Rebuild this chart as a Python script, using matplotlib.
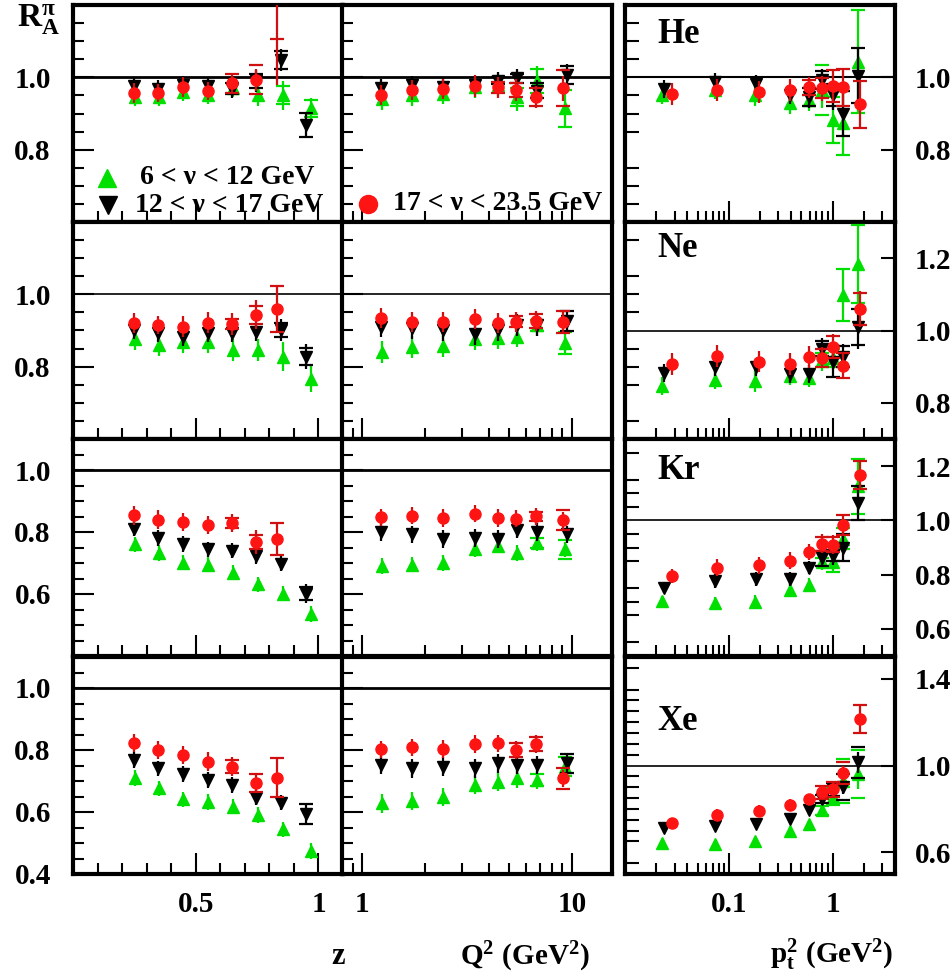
import numpy as np
import matplotlib.pyplot as plt
from matplotlib.ticker import FixedLocator, MultipleLocator, NullFormatter

plt.rcParams['font.family'] = ['Liberation Serif', 'DejaVu Serif']
plt.rcParams['font.weight'] = 'bold'
plt.rcParams['mathtext.fontset'] = 'custom'
plt.rcParams['mathtext.rm'] = 'Liberation Serif:bold'
plt.rcParams['mathtext.it'] = 'Liberation Serif:bold'
plt.rcParams['mathtext.bf'] = 'Liberation Serif:bold'

# x positions: green (6-12), black (12-17), red (17-23.5 GeV)
z_x = [[0.254, 0.35, 0.448, 0.55, 0.653, 0.753, 0.855, 0.968],
       [0.247, 0.347, 0.448, 0.548, 0.648, 0.746, 0.848, 0.951],
       [0.247, 0.347, 0.448, 0.548, 0.648, 0.746, 0.831]]
q2_x = [[1.24, 1.73, 2.43, 3.44, 4.45, 5.45, 6.8, 9.28],
        [1.225, 1.726, 2.427, 3.44, 4.45, 5.45, 6.8, 9.47],
        [1.225, 1.726, 2.427, 3.44, 4.42, 5.41, 6.76, 9.05]]
pt_x = [[0.0227, 0.074, 0.18, 0.39, 0.59, 0.80, 1.0, 1.25, 1.76],
        [0.0235, 0.074, 0.184, 0.39, 0.59, 0.785, 1.0, 1.25, 1.76],
        [0.0284, 0.077, 0.194, 0.39, 0.59, 0.80, 1.0, 1.26, 1.83]]

# He
he_z_y = [[0.946, 0.946, 0.96, 0.951, 0.97, 0.951, 0.951, 0.914],
          [0.975, 0.968, 0.978, 0.975, 0.968, 0.99, 1.048, 0.868],
          [0.956, 0.956, 0.974, 0.963, 0.983, 0.993, 1.25]]
he_z_err = [[0.025, 0.025, 0.025, 0.025, 0.025, 0.03, 0.04, 0.03],
            [0.025, 0.025, 0.025, 0.025, 0.025, 0.03, 0.03, 0.035],
            [0.027, 0.025, 0.027, 0.025, 0.03, 0.03, 0.27]]
he_z_sys = [[0, 0, 0, 0, 0, 0, 0.025, 0.023],
            [0, 0, 0, 0, 0.015, 0.02, 0.025, 0.033],
            [0, 0, 0, 0, 0.025, 0.04, 0.145]]
he_q2_y = [[0.94, 0.951, 0.955, 0.972, 0.979, 0.946, 0.99, 0.914],
           [0.97, 0.979, 0.972, 0.979, 0.991, 0.997, 0.963, 1.006],
           [0.951, 0.965, 0.967, 0.976, 0.972, 0.965, 0.945, 0.970]]
he_q2_err = [[0.03, 0.03, 0.03, 0.03, 0.03, 0.04, 0.04, 0.05],
             [0.025, 0.025, 0.025, 0.025, 0.025, 0.025, 0.03, 0.03],
             [0.028, 0.028, 0.028, 0.03, 0.03, 0.03, 0.03, 0.035]]
he_q2_sys = [[0, 0, 0, 0, 0, 0.025, 0.032, 0.05],
             [0, 0, 0, 0, 0.01, 0.012, 0.02, 0.025],
             [0, 0, 0, 0, 0.015, 0.02, 0.025, 0.05]]
he_pt_y = [[0.951, 0.965, 0.951, 0.928, 0.937, 0.965, 0.882, 0.873, 1.043],
           [0.967, 0.988, 0.982, 0.951, 0.946, 0.993, 0.951, 0.90, 1.004],
           [0.954, 0.965, 0.96, 0.965, 0.972, 0.970, 0.976, 0.972, 0.926]]
he_pt_err = [[0.025, 0.025, 0.03, 0.03, 0.03, 0.05, 0.064, 0.088, 0.142],
             [0.025, 0.025, 0.025, 0.025, 0.03, 0.03, 0.04, 0.062, 0.076],
             [0.03, 0.03, 0.03, 0.03, 0.03, 0.035, 0.045, 0.05, 0.065]]
he_pt_sys = [[0, 0, 0, 0, 0.015, 0.07, 0.064, 0.088, 0.142],
             [0, 0, 0, 0, 0.025, 0.025, 0.03, 0.062, 0.076],
             [0, 0, 0, 0, 0.02, 0.028, 0.045, 0.05, 0.065]]

# Ne
ne_z_y = [[0.877, 0.86, 0.869, 0.869, 0.846, 0.846, 0.828, 0.766],
          [0.901, 0.892, 0.883, 0.892, 0.892, 0.897, 0.901, 0.828],
          [0.92, 0.915, 0.911, 0.922, 0.918, 0.943, 0.959]]
ne_z_err = [[0.03, 0.03, 0.03, 0.03, 0.03, 0.03, 0.04, 0.035],
            [0.025, 0.025, 0.025, 0.025, 0.025, 0.025, 0.03, 0.035],
            [0.028, 0.025, 0.03, 0.028, 0.03, 0.04, 0.063]]
ne_z_sys = [[0, 0, 0, 0, 0, 0, 0, 0],
            [0, 0, 0, 0, 0, 0, 0.02, 0.023],
            [0, 0, 0, 0, 0.015, 0.026, 0.063]]
ne_q2_y = [[0.841, 0.855, 0.857, 0.877, 0.88, 0.883, 0.915, 0.865],
           [0.911, 0.906, 0.901, 0.89, 0.901, 0.915, 0.915, 0.926],
           [0.934, 0.923, 0.923, 0.932, 0.92, 0.924, 0.926, 0.923]]
ne_q2_err = [[0.03, 0.03, 0.03, 0.03, 0.03, 0.03, 0.03, 0.03],
             [0.03, 0.03, 0.03, 0.03, 0.03, 0.03, 0.03, 0.03],
             [0.028, 0.028, 0.028, 0.028, 0.028, 0.028, 0.028, 0.028]]
ne_q2_sys = [[0, 0, 0, 0, 0, 0, 0.015, 0.03],
             [0, 0, 0, 0, 0, 0, 0, 0.028],
             [0, 0, 0, 0, 0, 0.015, 0.02, 0.031]]
ne_pt_y = [[0.847, 0.863, 0.861, 0.874, 0.870, 0.918, 0.923, 1.098, 1.183],
           [0.882, 0.90, 0.90, 0.879, 0.879, 0.95, 0.914, 0.928, 1.009],
           [0.907, 0.930, 0.914, 0.907, 0.926, 0.925, 0.955, 0.903, 1.06]]
ne_pt_err = [[0.025, 0.025, 0.03, 0.025, 0.025, 0.03, 0.03, 0.072, 0.108],
             [0.025, 0.025, 0.025, 0.025, 0.025, 0.03, 0.043, 0.035, 0.06],
             [0.03, 0.03, 0.03, 0.03, 0.03, 0.03, 0.035, 0.035, 0.05]]
ne_pt_sys = [[0, 0, 0, 0, 0, 0.02, 0.025, 0.072, 0.108],
             [0, 0, 0, 0, 0, 0.02, 0.043, 0.03, 0.05],
             [0, 0, 0, 0, 0, 0.025, 0.03, 0.035, 0.045]]

# Kr
kr_z_y = [[0.76, 0.733, 0.701, 0.695, 0.669, 0.631, 0.601, 0.535],
          [0.811, 0.781, 0.762, 0.744, 0.74, 0.722, 0.698, 0.601],
          [0.854, 0.84, 0.832, 0.822, 0.829, 0.768, 0.778]]
kr_z_err = [[0.025, 0.025, 0.025, 0.025, 0.025, 0.025, 0.025, 0.025],
            [0.025, 0.025, 0.025, 0.025, 0.025, 0.025, 0.025, 0.03],
            [0.03, 0.03, 0.03, 0.03, 0.03, 0.04, 0.05]]
kr_z_sys = [[0, 0, 0, 0, 0, 0, 0, 0],
            [0, 0, 0, 0, 0, 0, 0, 0.021],
            [0, 0, 0, 0, 0.015, 0.023, 0.052]]
kr_q2_y = [[0.69, 0.695, 0.70, 0.744, 0.756, 0.733, 0.765, 0.744],
           [0.80, 0.792, 0.778, 0.781, 0.778, 0.808, 0.80, 0.792],
           [0.847, 0.853, 0.845, 0.859, 0.845, 0.843, 0.851, 0.838]]
kr_q2_err = [[0.025, 0.025, 0.025, 0.025, 0.025, 0.025, 0.025, 0.025],
             [0.028, 0.028, 0.028, 0.028, 0.028, 0.028, 0.028, 0.028],
             [0.028, 0.028, 0.028, 0.028, 0.028, 0.028, 0.028, 0.028]]
kr_q2_sys = [[0, 0, 0, 0, 0, 0, 0.016, 0.03],
             [0, 0, 0, 0, 0, 0, 0, 0],
             [0, 0, 0, 0, 0, 0, 0.015, 0.033]]
kr_pt_y = [[0.703, 0.697, 0.70, 0.742, 0.762, 0.847, 0.847, 0.933, 1.125],
           [0.752, 0.776, 0.783, 0.783, 0.826, 0.86, 0.87, 0.899, 1.064],
           [0.795, 0.826, 0.834, 0.852, 0.884, 0.913, 0.911, 0.982, 1.168]]
kr_pt_err = [[0.02, 0.02, 0.025, 0.025, 0.025, 0.03, 0.035, 0.04, 0.1],
             [0.02, 0.025, 0.025, 0.025, 0.025, 0.03, 0.035, 0.049, 0.061],
             [0.025, 0.03, 0.03, 0.03, 0.03, 0.035, 0.035, 0.04, 0.052]]
kr_pt_sys = [[0, 0, 0, 0, 0, 0.015, 0.037, 0.04, 0.1],
             [0, 0, 0, 0, 0, 0.028, 0.02, 0.049, 0.061],
             [0, 0, 0, 0, 0, 0.025, 0.027, 0.037, 0.052]]

# Xe
xe_z_y = [[0.709, 0.676, 0.641, 0.633, 0.617, 0.59, 0.544, 0.475],
          [0.768, 0.741, 0.723, 0.703, 0.687, 0.646, 0.63, 0.593],
          [0.822, 0.80, 0.784, 0.762, 0.746, 0.693, 0.711]]
xe_z_err = [[0.025, 0.025, 0.025, 0.025, 0.025, 0.025, 0.025, 0.025],
            [0.025, 0.025, 0.025, 0.025, 0.025, 0.025, 0.025, 0.03],
            [0.03, 0.03, 0.03, 0.03, 0.03, 0.03, 0.062]]
xe_z_sys = [[0, 0, 0, 0, 0, 0, 0, 0],
            [0, 0, 0, 0, 0, 0, 0, 0.032],
            [0, 0, 0, 0, 0.021, 0.029, 0.062]]
xe_q2_y = [[0.628, 0.636, 0.649, 0.687, 0.698, 0.709, 0.703, 0.746],
           [0.752, 0.741, 0.746, 0.741, 0.757, 0.752, 0.752, 0.757],
           [0.802, 0.809, 0.803, 0.819, 0.822, 0.80, 0.819, 0.709]]
xe_q2_err = [[0.03, 0.03, 0.03, 0.03, 0.03, 0.03, 0.03, 0.03],
             [0.03, 0.03, 0.03, 0.03, 0.03, 0.03, 0.03, 0.03],
             [0.028, 0.028, 0.028, 0.028, 0.028, 0.028, 0.028, 0.028]]
xe_q2_sys = [[0, 0, 0, 0, 0, 0, 0.02, 0.03],
             [0, 0, 0, 0, 0, 0, 0, 0.03],
             [0, 0, 0, 0, 0, 0.024, 0.022, 0.034]]
xe_pt_y = [[0.645, 0.639, 0.65, 0.699, 0.731, 0.793, 0.857, 0.929, 0.962],
           [0.711, 0.722, 0.731, 0.753, 0.796, 0.845, 0.888, 0.903, 1.014],
           [0.737, 0.773, 0.791, 0.819, 0.845, 0.876, 0.891, 0.965, 1.214]]
xe_pt_err = [[0.015, 0.015, 0.02, 0.02, 0.02, 0.025, 0.03, 0.04, 0.07],
             [0.02, 0.02, 0.02, 0.02, 0.025, 0.025, 0.03, 0.035, 0.05],
             [0.02, 0.025, 0.025, 0.025, 0.025, 0.03, 0.03, 0.035, 0.07]]
xe_pt_sys = [[0, 0, 0, 0, 0, 0.02, 0.04, 0.1, 0.11],
             [0, 0, 0, 0, 0, 0.02, 0.03, 0.06, 0.07],
             [0, 0, 0, 0, 0, 0.03, 0.035, 0.05, 0.065]]

nuclei = ["He", "Ne", "Kr", "Xe"]
ylim_lm = [(0.6, 1.2), (0.6, 1.2), (0.4, 1.1), (0.4, 1.1)]
ylab_lm = [[0.8, 1.0], [0.8, 1.0], [0.6, 0.8, 1.0], [0.4, 0.6, 0.8, 1.0]]
ylim_r = [(0.6, 1.2), (0.7, 1.3), (0.5, 1.3), (0.5, 1.5)]
ylab_r = [[0.8, 1.0], [0.8, 1.0, 1.2], [0.6, 0.8, 1.0, 1.2], [0.6, 1.0, 1.4]]
legend_txt = ["6 < ν < 12 GeV", "12 < ν < 17 GeV", "17 < ν < 23.5 GeV"]

colors = ['#00e000', 'black', '#ff1414']
ecolors = ['#00e000', 'black', '#d01010']
markers = ['^', 'v', 'o']

data = {
    "He": [(he_z_y, he_z_err, he_z_sys), (he_q2_y, he_q2_err, he_q2_sys), (he_pt_y, he_pt_err, he_pt_sys)],
    "Ne": [(ne_z_y, ne_z_err, ne_z_sys), (ne_q2_y, ne_q2_err, ne_q2_sys), (ne_pt_y, ne_pt_err, ne_pt_sys)],
    "Kr": [(kr_z_y, kr_z_err, kr_z_sys), (kr_q2_y, kr_q2_err, kr_q2_sys), (kr_pt_y, kr_pt_err, kr_pt_sys)],
    "Xe": [(xe_z_y, xe_z_err, xe_z_sys), (xe_q2_y, xe_q2_err, xe_q2_sys), (xe_pt_y, xe_pt_err, xe_pt_sys)],
}
xs_all = [z_x, q2_x, pt_x]

W, H = 950, 973
fig = plt.figure(figsize=(W / 100, H / 100), dpi=100)

col_left = [73, 342, 625]
col_w = 270
row_top = [5, 222, 439, 657]
row_h = 217
FS = 21


def draw_series(ax, xs, ys, errs, syss):
    for k in range(3):
        x = np.array(xs[k])
        y = np.array(ys[k])
        e = np.array(errs[k])
        s = np.array(syss[k])
        ax.errorbar(x, y, yerr=e, fmt=markers[k], color=colors[k], ecolor=ecolors[k],
                    ms=8, elinewidth=1.6, capsize=0, zorder=3 + k)
        m = s > 0
        for sign in (1, -1):
            ax.plot(x[m], y[m] + sign * s[m], ls='none', marker='_', ms=10, mew=1.6,
                    color=ecolors[k], zorder=3 + k)


for r, nuc in enumerate(nuclei):
    for c in range(3):
        ax = fig.add_axes([col_left[c] / W, 1 - (row_top[r] + row_h) / H, col_w / W, row_h / H])
        ys, errs, syss = data[nuc][c]
        draw_series(ax, xs_all[c], ys, errs, syss)
        for sp in ax.spines.values():
            sp.set_linewidth(3)

        ax.tick_params(which='both', direction='in', top=False, width=1.5, labelsize=FS)
        ax.tick_params(which='major', length=15)
        ax.tick_params(which='minor', length=8)

        if c == 0:
            ax.set_xlim(0, 1.1)
            ax.xaxis.set_major_locator(FixedLocator([0.5, 1.0]))
            ax.xaxis.set_minor_locator(MultipleLocator(0.1))
            ax.set_xticklabels(['0.5', '1'])
        elif c == 1:
            ax.set_xscale('log')
            ax.set_xlim(0.8, 15.5)
            ax.xaxis.set_major_locator(FixedLocator([1, 10]))
            ax.xaxis.set_minor_locator(FixedLocator([0.9, 2, 3, 4, 5, 6, 7, 8, 9]))
            ax.xaxis.set_minor_formatter(NullFormatter())
            ax.set_xticklabels(['1', '10'])
        else:
            ax.set_xscale('log')
            ax.set_xlim(0.01, 4)
            ax.xaxis.set_major_locator(FixedLocator([0.1, 1]))
            ax.xaxis.set_minor_locator(FixedLocator(
                [0.02, 0.03, 0.04, 0.05, 0.06, 0.07, 0.08, 0.09,
                 0.2, 0.3, 0.4, 0.5, 0.6, 0.7, 0.8, 0.9, 2, 3, 4]))
            ax.xaxis.set_minor_formatter(NullFormatter())
            ax.set_xticklabels(['0.1', '1'])

        if c < 2:
            ax.set_ylim(*ylim_lm[r])
            ax.yaxis.set_major_locator(FixedLocator(ylab_lm[r]))
            ax.set_yticklabels(['%.1f' % v for v in ylab_lm[r]])
            ax.axhline(1.0, color='black', lw=2.0 if r != 1 else 1.2, zorder=1)
        else:
            ax.set_ylim(*ylim_r[r])
            ax.yaxis.set_major_locator(FixedLocator(ylab_r[r]))
            ax.set_yticklabels(['%.1f' % v for v in ylab_r[r]])
            ax.axhline(1.0, color='black', lw=1.5 if r == 0 else 1.2, zorder=1)
            ax.tick_params(axis='y', which='both', length=10)
        ax.yaxis.set_minor_locator(MultipleLocator(0.05))

        ax.tick_params(axis='y', left=(c < 2), right=(c == 2),
                       labelleft=(c == 0), labelright=(c == 2))
        ax.tick_params(axis='y', pad=16 if c == 0 else 14)
        ax.tick_params(axis='x', labelbottom=(r == 3), pad=12)

        if c == 2:
            ax.text(0.12, [0.866, 0.876, 0.853, 0.705][r], nuc, transform=ax.transAxes,
                    fontsize=25, fontweight='bold', ha='left', va='center')

        if r == 0 and c == 0:
            ax.plot([0.126], [0.203], marker='^', ms=13, color=colors[0], transform=ax.transAxes,
                    clip_on=False, zorder=6)
            ax.text(0.25, 0.203, legend_txt[0], transform=ax.transAxes, fontsize=20,
                    fontweight='bold', ha='left', va='center')
            ax.plot([0.13], [0.078], marker='v', ms=13, color=colors[1], transform=ax.transAxes,
                    clip_on=False, zorder=6)
            ax.text(0.23, 0.078, legend_txt[1], transform=ax.transAxes, fontsize=20,
                    fontweight='bold', ha='left', va='center')
        if r == 0 and c == 1:
            ax.plot([0.096], [0.083], marker='o', ms=13, color=colors[2], transform=ax.transAxes,
                    clip_on=False, zorder=6)
            ax.text(0.19, 0.083, legend_txt[2], transform=ax.transAxes, fontsize=20,
                    fontweight='bold', ha='left', va='center')

fig.text(17 / W, 1 - 20 / H, r'$\mathrm{R}^{\pi}_{\mathrm{A}}$', fontsize=24, ha='left', va='center')
fig.text(338 / W, 1 - 957 / H, 'z', fontsize=22, fontweight='bold', ha='center', va='center')
fig.text(590 / W, 1 - 957 / H, r'$\mathrm{Q^2\ (GeV^2)}$', fontsize=21, ha='right', va='center')
fig.text(893 / W, 1 - 955 / H, r'$\mathrm{p_t^2\ (GeV^2)}$', fontsize=21, ha='right', va='center')

fig.savefig('out.png', dpi=100)
